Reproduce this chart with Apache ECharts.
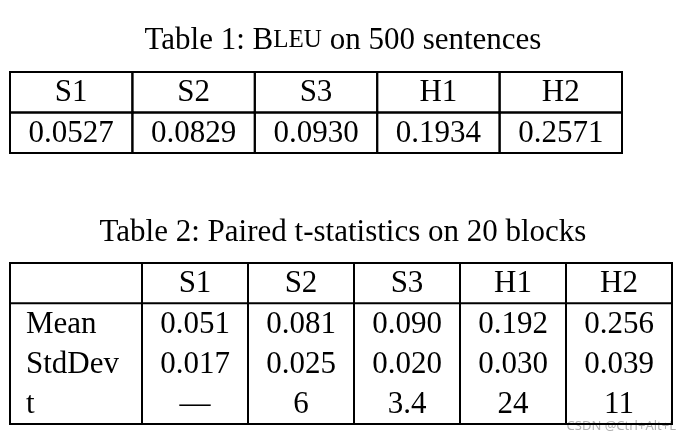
<!DOCTYPE html>
<html>
<head>
<meta charset="utf-8">
<script src="https://cdn.jsdelivr.net/npm/echarts@6/dist/echarts.min.js"></script>
<style>html,body{margin:0;background:#fff}#main{width:686px;height:441px}</style>
</head>
<body>
<div id="main"></div>
<script>
// table 1
const t1Cols = ['S1', 'S2', 'S3', 'H1', 'H2'];
const t1Bleu = ['0.0527', '0.0829', '0.0930', '0.1934', '0.2571'];
// table 2
const t2Cols = ['S1', 'S2', 'S3', 'H1', 'H2'];
const t2RowLabels = ['Mean', 'StdDev', 't'];
const t2Mean = ['0.051', '0.081', '0.090', '0.192', '0.256'];
const t2Std = ['0.017', '0.025', '0.020', '0.030', '0.039'];
const t2T = ['—', '6', '3.4', '24', '11'];

const font = 'Liberation Serif';
const fs = 31;
const lw = 2;

// cell renderer; text comes from the data array by index
const makeCell = (data, nRows, full, drawLeft, leftAlign) => (params, api) => {
  const d = data[params.dataIndex];
  const col = d[0];
  const row = d[1];
  const c = api.coord([col, row]);
  const s = api.size([1, 1]);
  const x0 = c[0] - s[0] / 2, x1 = c[0] + s[0] / 2;
  const y0 = c[1] - s[1] / 2, y1 = c[1] + s[1] / 2;
  const st = { stroke: '#000', lineWidth: lw };
  const kids = [];
  const line = (a, b, e, f) => kids.push({ type: 'line', shape: { x1: a, y1: b, x2: e, y2: f }, style: st });
  if (drawLeft) line(x0, y0 - 1, x0, y1 + 1);
  line(x1, y0 - 1, x1, y1 + 1);
  if (full || row <= 1) line(x0, y0, x1, y0);
  if (full || row === nRows - 1) line(x0, y1, x1, y1);
  kids.push({
    type: 'text',
    style: {
      text: d[2], x: leftAlign ? x0 + 16 : c[0], y: c[1] + 1,
      align: leftAlign ? 'left' : 'center', verticalAlign: 'middle',
      font: fs + 'px "' + font + '"', fill: '#000'
    }
  });
  return { type: 'group', children: kids };
};

const t1Data = [];
t1Cols.forEach((v, i) => { t1Data.push([i, 0, v]); t1Data.push([i, 1, t1Bleu[i]]); });

const t2Data = [];
t2Cols.forEach((v, i) => {
  t2Data.push([i, 0, v]);
  t2Data.push([i, 1, t2Mean[i]]);
  t2Data.push([i, 2, t2Std[i]]);
  t2Data.push([i, 3, t2T[i]]);
});
const t2LabelData = [[0, 0, '']];
t2RowLabels.forEach((v, i) => t2LabelData.push([0, i + 1, v]));

const hiddenAxis = (data, extra) => Object.assign({
  type: 'category', data, show: false, axisLine: { show: false }
}, extra || {});

const seriesData = (data) => data.map((d) => [d[0], d[1]]);

const myChart = echarts.init(document.getElementById('main'));
const option = {
  backgroundColor: '#fff',
  animation: false,
  title: [
    {
      text: 'Table 1: {b|B}{s|LEU} on 500 sentences', left: 'center', top: 20,
      textStyle: { fontFamily: font, fontSize: fs, fontWeight: 'normal', color: '#000',
        rich: { b: { fontFamily: font, fontSize: fs }, s: { fontFamily: font, fontSize: 25 } } }
    },
    {
      text: 'Table 2: Paired t-statistics on 20 blocks', left: 'center', top: 212,
      textStyle: { fontFamily: font, fontSize: fs, fontWeight: 'normal', color: '#000' }
    }
  ],
  grid: [
    { left: 10, top: 72, width: 612, height: 81 },
    { left: 10, top: 263, width: 132, height: 161 },
    { left: 142, top: 263, width: 530, height: 161 }
  ],
  xAxis: [
    hiddenAxis(t1Cols, { gridIndex: 0 }),
    hiddenAxis(['label'], { gridIndex: 1 }),
    hiddenAxis(t2Cols, { gridIndex: 2 })
  ],
  yAxis: [
    hiddenAxis(['head', 'bleu'], { gridIndex: 0, inverse: true }),
    hiddenAxis(['head'].concat(t2RowLabels), { gridIndex: 1, inverse: true }),
    hiddenAxis(['head'].concat(t2RowLabels), { gridIndex: 2, inverse: true })
  ],
  graphic: [{
    type: 'text', right: 10, bottom: 8,
    style: { text: 'CSDN @Ctrl+Alt+L', font: '13px "Noto Sans"', fill: '#b0b0b0' }
  }],
  series: [
    { type: 'custom', xAxisIndex: 0, yAxisIndex: 0, data: seriesData(t1Data),
      renderItem: makeCell(t1Data, 2, true, true, false) },
    { type: 'custom', xAxisIndex: 1, yAxisIndex: 1, data: seriesData(t2LabelData),
      renderItem: makeCell(t2LabelData, 4, false, true, true) },
    { type: 'custom', xAxisIndex: 2, yAxisIndex: 2, data: seriesData(t2Data),
      renderItem: makeCell(t2Data, 4, false, false, false) }
  ]
};
myChart.setOption(option);
</script>
</body>
</html>
